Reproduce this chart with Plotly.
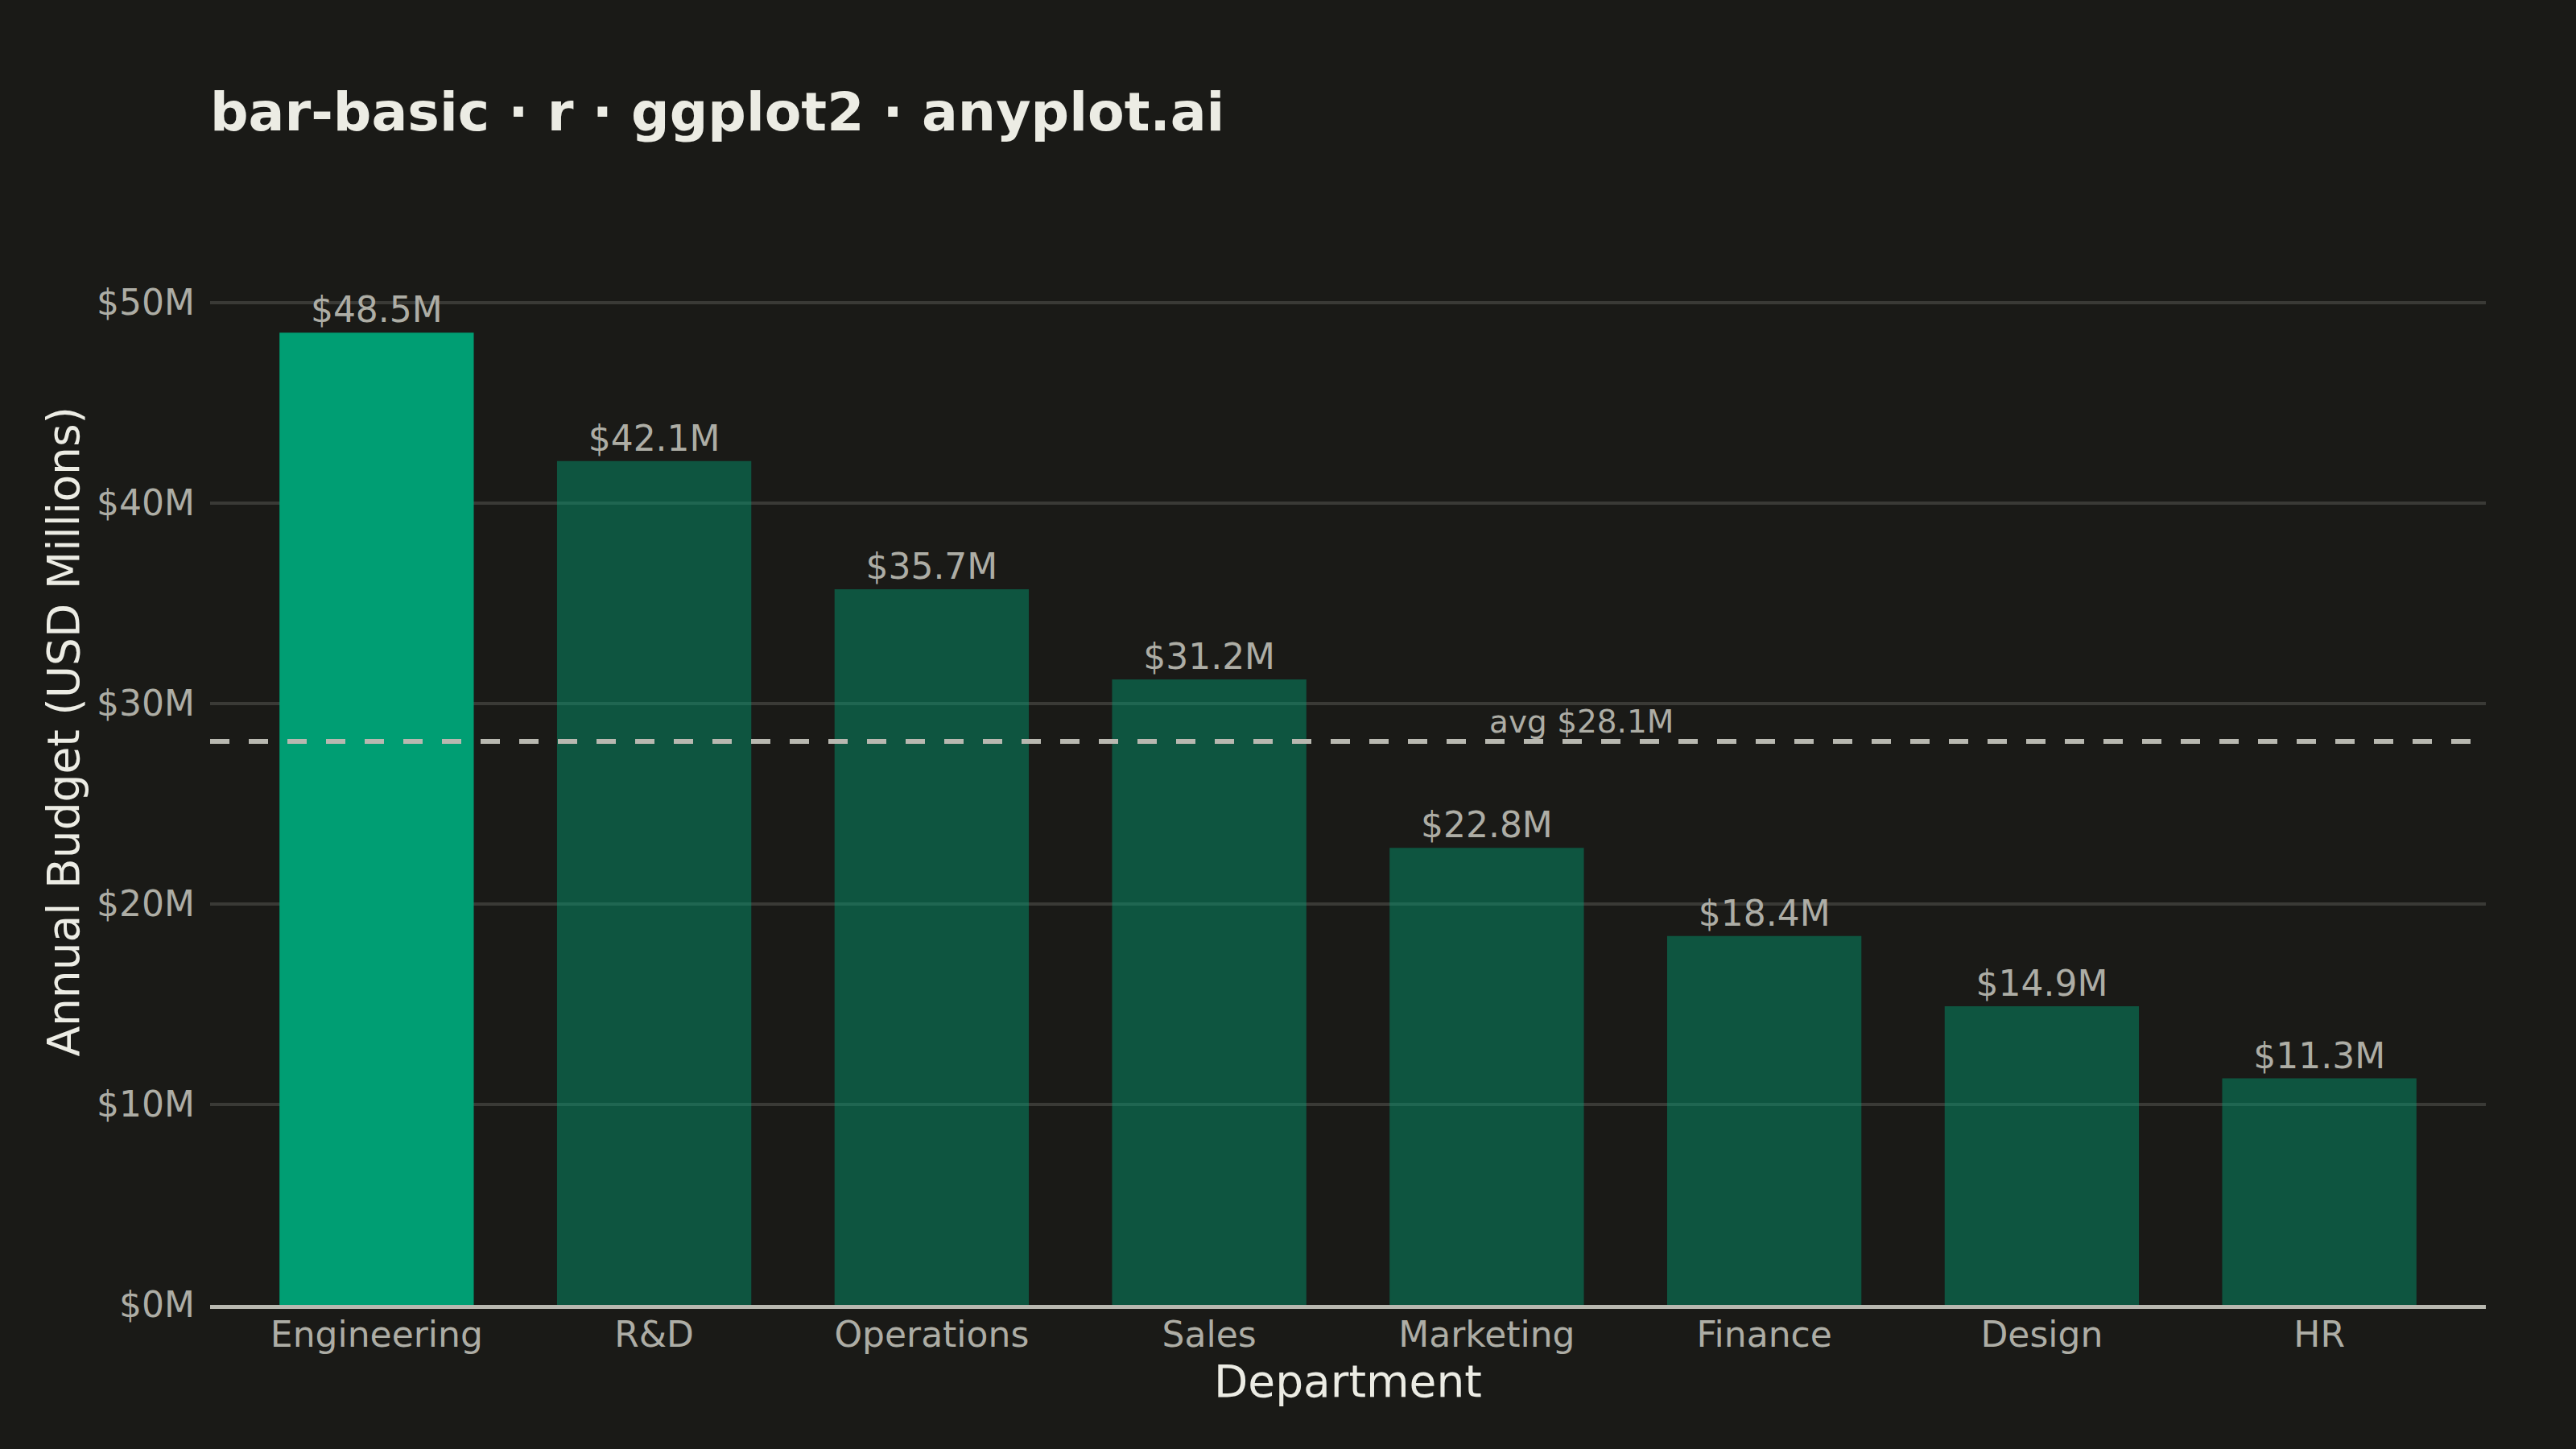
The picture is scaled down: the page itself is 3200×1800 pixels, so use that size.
import plotly.graph_objects as go

departments = ["Engineering", "R&D", "Operations", "Sales", "Marketing", "Finance", "Design", "HR"]
budgets = [48.5, 42.1, 35.7, 31.2, 22.8, 18.4, 14.9, 11.3]
highlight = "Engineering"
y_ticks = [0, 10, 20, 30, 40, 50]
y_tick_labels = ["$0M", "$10M", "$20M", "$30M", "$40M", "$50M"]

BG = "#1a1a17"
GRID = "#3a3a36"
MUTED = "#adada5"
INK = "#ececE4"
FONT = "DejaVu Sans"

avg = sum(budgets) / len(budgets)
colors = ["#009e73" if d == highlight else "rgba(0,158,115,0.45)" for d in departments]

fig = go.Figure(go.Bar(
    x=departments, y=budgets, width=0.7,
    marker=dict(color=colors, line=dict(width=0)),
    text=[f"${v:.1f}M" for v in budgets],
    textposition="outside", constraintext="none", cliponaxis=False,
    textfont=dict(family=FONT, size=44, color=MUTED),
))

fig.add_shape(type="line", xref="paper", x0=0, x1=1, y0=avg, y1=avg,
              line=dict(color="#b8b8b0", width=6, dash="24px,24px"))
fig.add_annotation(x=4.34, y=avg, text=f"avg ${avg:.1f}M", showarrow=False,
                   yanchor="bottom", yshift=0,
                   font=dict(family=FONT, size=39, color=MUTED))

# axis titles as annotations so they sit where ggplot put them
fig.add_annotation(xref="paper", yref="paper", x=0.5, y=-0.075, text="Department",
                   showarrow=False, xanchor="center", yanchor="middle",
                   font=dict(family=FONT, size=55, color=INK))
fig.add_annotation(xref="paper", yref="paper", x=-0.0647, y=0.561,
                   text="Annual Budget (USD Millions)", textangle=-90, showarrow=False,
                   xanchor="center", yanchor="middle",
                   font=dict(family=FONT, size=55, color=INK))

fig.update_layout(
    width=3200, height=1800,
    paper_bgcolor=BG, plot_bgcolor=BG,
    margin=dict(l=261, r=112, t=351, b=179),
    showlegend=False,
    title=dict(text="<b>bar-basic · r · ggplot2 · anyplot.ai</b>",
               x=261 / 3200, xanchor="left", xref="container",
               y=1 - 139 / 1800, yanchor="middle", yref="container",
               font=dict(family=FONT, size=66.5, color=INK)),
    xaxis=dict(range=[-0.6, 7.6], showgrid=False, zeroline=False,
               showline=True, linecolor="#b8b8b0", linewidth=5,
               ticks="", ticklabelstandoff=-6,
               tickfont=dict(family=FONT, size=44, color=MUTED)),
    yaxis=dict(range=[0, 51], tickvals=y_ticks, ticktext=y_tick_labels,
               showgrid=True, gridcolor=GRID, gridwidth=4, zeroline=False,
               showline=False, ticks="", ticklabelstandoff=18,
               tickfont=dict(family=FONT, size=44, color=MUTED)),
)

fig.write_html("out.html", config={"displayModeBar": False},
               post_script="document.body.style.margin='0';")
